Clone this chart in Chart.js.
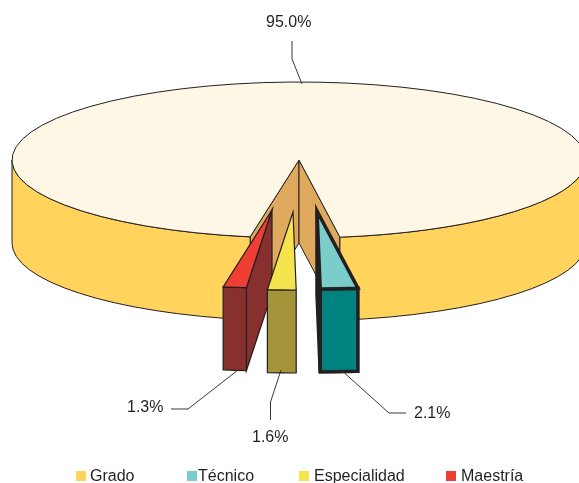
<!DOCTYPE html>
<html>
<head>
<meta charset="utf-8">
<title>Grado</title>
<script src="https://cdn.jsdelivr.net/npm/chart.js@4/dist/chart.umd.min.js"></script>
<style>
    html, body { margin: 0; background: #fff; overflow: hidden; }
    canvas { display: block; }
</style>
</head>
<body>
<canvas id="pieChart" width="579" height="483"></canvas>
<script>
// Chart data
const categories = ["Grado", "Técnico", "Especialidad", "Maestría"];
const values = [95.0, 2.1, 1.6, 1.3];
const topColors = ["#fff7e5", "#7acdcb", "#f6e44f", "#ef3e33"];
const sideColors = ["#ffd35c", "#00837f", "#a5953a", "#87302e"];
const cutColors = ["#dfa95e", "#00837f", "#a5953a", "#87302e"];
const legendColors = ["#ffd35c", "#7acdcb", "#f6e44f", "#ef3e33"];

// Look of the tilted pie
const inkColor = "#231f20";
const tilt = 78 / 287;
const depth = 83;
const shiftX = [0, 18, -6, -27];
const shiftY = [0, 51, 52, 50];
const lineWidths = [1, 3.5, 1.2, 1.2];
const drawOrder = [0, 3, 2, 1];

// Percent labels: text spot, then the leader line
const labelSpots = [[266, 27], [414, 418], [252, 442], [127, 412]];
const leaders = [
    [[292, 41], [292, 59], [302, 84]],
    [[406, 413], [389, 413], [340, 369]],
    [[270.5, 420], [270.5, 402], [281, 370]],
    [[171, 409], [188, 409], [238, 370]]
];

// Legend spots: box x, text x
const legendBoxX = [76, 187, 299, 446];
const legendTextX = [90, 198, 314, 461];

function sliceShape(arc, index) {
    const centerY = arc.$chart.centerY;
    return {
        x: arc.x,
        y: centerY + (arc.y - centerY) * tilt,
        r: arc.outerRadius,
        start: arc.startAngle,
        end: arc.endAngle,
        index: index
    };
}

function strokeAndFill(ctx, fill, width) {
    ctx.fillStyle = fill;
    ctx.fill();
    ctx.strokeStyle = inkColor;
    ctx.lineWidth = width;
    ctx.lineJoin = "miter";
    ctx.stroke();
}

function drawRim(ctx, s) {
    // Only the front half of a slice's edge can be seen
    for (let turn = 0; turn < 2; turn++) {
        const from = Math.max(s.start, turn * 2 * Math.PI);
        const to = Math.min(s.end, Math.PI + turn * 2 * Math.PI);
        if (from >= to) continue;
        ctx.beginPath();
        ctx.ellipse(s.x, s.y, s.r, s.r * tilt, 0, from, to);
        ctx.ellipse(s.x, s.y + depth, s.r, s.r * tilt, 0, to, from, true);
        ctx.closePath();
        strokeAndFill(ctx, sideColors[s.index], lineWidths[s.index]);
    }
}

function drawCut(ctx, s, angle) {
    const outerX = s.x + Math.cos(angle) * s.r;
    const outerY = s.y + Math.sin(angle) * s.r * tilt;
    ctx.beginPath();
    ctx.moveTo(s.x, s.y);
    ctx.lineTo(outerX, outerY);
    ctx.lineTo(outerX, outerY + depth);
    ctx.lineTo(s.x, s.y + depth);
    ctx.closePath();
    strokeAndFill(ctx, cutColors[s.index], lineWidths[s.index]);
}

const tiltedPie = {
    id: "tiltedPie",
    afterDatasetsUpdate(chart) {
        const arcs = chart.getDatasetMeta(0).data;
        chart.centerY = arcs[0].y;
        arcs.forEach((arc, i) => {
            arc.$chart = chart;
            arc.x += shiftX[i];
            arc.y += shiftY[i] / tilt;
        });
    },
    beforeDatasetsDraw(chart) {
        const ctx = chart.ctx;
        const arcs = chart.getDatasetMeta(0).data;

        drawOrder.forEach((i) => {
            const s = sliceShape(arcs[i], i);
            // A cut face shows only when it turns towards the viewer
            if (Math.sin(s.start - Math.PI / 2) > 0) drawCut(ctx, s, s.start);
            if (Math.sin(s.end + Math.PI / 2) > 0) drawCut(ctx, s, s.end);
            drawRim(ctx, s);
        });

        // Library draws the top faces squashed into the tilt
        ctx.save();
        ctx.translate(0, chart.centerY);
        ctx.scale(1, tilt);
        ctx.translate(0, -chart.centerY);
    },
    afterDatasetsDraw(chart) {
        const ctx = chart.ctx;
        ctx.restore();
        const arcs = chart.getDatasetMeta(0).data;

        // Outlines go on here so their width is not squashed
        drawOrder.forEach((i) => {
            const s = sliceShape(arcs[i], i);
            ctx.beginPath();
            ctx.moveTo(s.x, s.y);
            ctx.ellipse(s.x, s.y, s.r, s.r * tilt, 0, s.start, s.end);
            ctx.closePath();
            ctx.strokeStyle = inkColor;
            ctx.lineWidth = lineWidths[i];
            ctx.stroke();
        });

        ctx.font = "16px 'Liberation Sans', Arial, sans-serif";
        ctx.textBaseline = "alphabetic";
        ctx.textAlign = "left";

        // Leaders and percent labels
        values.forEach((value, i) => {
            ctx.beginPath();
            leaders[i].forEach((p, j) => {
                if (j === 0) ctx.moveTo(p[0], p[1]);
                else ctx.lineTo(p[0], p[1]);
            });
            ctx.strokeStyle = "#3a3738";
            ctx.lineWidth = 1;
            ctx.stroke();
            ctx.fillStyle = inkColor;
            ctx.fillText(value.toFixed(1) + "%", labelSpots[i][0], labelSpots[i][1]);
        });

        // Legend
        categories.forEach((name, i) => {
            ctx.fillStyle = legendColors[i];
            ctx.fillRect(legendBoxX[i], 471, 10, 10);
            ctx.fillStyle = inkColor;
            ctx.fillText(name, legendTextX[i], 481);
        });
    }
};

new Chart(document.getElementById("pieChart"), {
    type: "pie",
    data: {
        labels: categories,
        datasets: [{
            data: values,
            backgroundColor: topColors,
            borderWidth: 0,
            clip: false
        }]
    },
    options: {
        responsive: false,
        animation: false,
        events: [],
        radius: 287,
        rotation: 189.8,
        layout: {
            padding: { left: 19, bottom: 163 }
        },
        plugins: {
            legend: { display: false },
            tooltip: { enabled: false }
        }
    },
    plugins: [tiltedPie]
});
</script>
</body>
</html>
